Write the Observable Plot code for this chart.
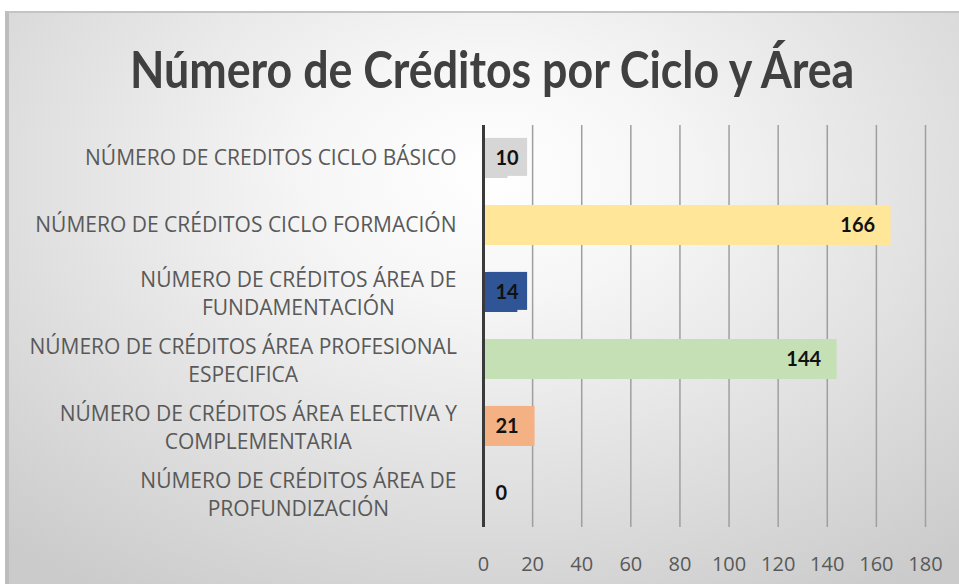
<!DOCTYPE html>
<html><head><meta charset="utf-8">
<script src="https://cdn.jsdelivr.net/npm/d3@7"></script>
<script src="https://cdn.jsdelivr.net/npm/@observablehq/plot@0.6"></script>
<style>
html,body{margin:0;padding:0;background:#fff;}
#wrap{position:relative;width:959px;height:584px;overflow:hidden;}
#card{position:absolute;left:5px;top:11px;width:960px;height:580px;border-top:2px solid #c4c4c4;border-left:4px solid #bdbdbd;
  background:radial-gradient(ellipse 75% 85% at 50% 28%, #ffffff 0%, #f6f6f6 25%, #e2e2e2 60%, #cbcbcb 100%);}
#title{position:absolute;left:0;top:40px;width:984px;text-align:center;line-height:56px;white-space:nowrap;}
#title span{display:inline-block;font-family:Lato,"Open Sans",sans-serif;font-weight:700;font-size:52px;color:#404040;transform:scaleX(0.86);transform-origin:50% 50%;}
#chart{position:absolute;left:0;top:112px;}
</style></head>
<body>
<div id="wrap"><div id="card"></div><div id="title"><span>Número de Créditos por Ciclo y Área</span></div><div id="chart"></div></div>
<script>
const categories = [
  "NÚMERO DE CREDITOS CICLO BÁSICO",
  "NÚMERO DE CRÉDITOS CICLO FORMACIÓN",
  "NÚMERO DE CRÉDITOS ÁREA DE\nFUNDAMENTACIÓN",
  "NÚMERO DE CRÉDITOS ÁREA PROFESIONAL\nESPECIFICA",
  "NÚMERO DE CRÉDITOS ÁREA ELECTIVA Y\nCOMPLEMENTARIA",
  "NÚMERO DE CRÉDITOS ÁREA DE\nPROFUNDIZACIÓN"
];
const values = [10, 166, 14, 144, 21, 0];
const barColors = ["#d6d6d6", "#ffe699", "#2f5597", "#c5e0b4", "#f4b183", "none"];
const xTicks = [0, 20, 40, 60, 80, 100, 120, 140, 160, 180];

const data = categories.map((c, i) => ({category: c, value: values[i], color: barColors[i]}));
const big = data.filter(d => d.value >= 30);
const small = data.filter(d => d.value < 30);

const labelFont = "Lato, 'Open Sans', sans-serif";
const plot = Plot.plot({
  width: 959,
  height: 472,
  marginLeft: 483,
  marginRight: 34,
  marginTop: 13,
  marginBottom: 57,
  style: {background: "transparent", overflow: "visible"},
  x: {domain: [0, 180], ticks: xTicks, tickSize: 0, tickPadding: 29, label: null},
  y: {domain: categories, paddingInner: 0.4, paddingOuter: 0.2, tickSize: 0, tickPadding: 27, label: null},
  marks: [
    Plot.ruleX(xTicks.slice(1), {stroke: "#9f9f9f", strokeWidth: 1.5}),
    Plot.barX(data, {y: "category", x: "value", fill: "color"}),
    Plot.ruleX([0], {stroke: "#3a3a3a", strokeWidth: 3}),
    Plot.text(big, {y: "category", x: "value", text: d => String(d.value), textAnchor: "end", dx: -16, fontWeight: "bold", fontSize: 20, fill: "#111", fontFamily: labelFont}),
    Plot.text(small, {y: "category", x: 0, text: d => String(d.value), textAnchor: "start", dx: 12, fontWeight: "bold", fontSize: 20, fill: "#111", fontFamily: labelFont})
  ]
});
document.getElementById("chart").appendChild(plot);

// axis text styling
const styleAxis = (sel, fs) => plot.querySelectorAll(sel).forEach(g => {
  g.setAttribute("font-size", fs);
  g.setAttribute("font-family", "'Open Sans', sans-serif");
  g.setAttribute("fill", "#595959");
  g.style.fontSize = fs + "px";
  g.style.fontFamily = "'Open Sans', sans-serif";
  g.style.fill = "#595959";
});
styleAxis('g[aria-label="x-axis tick label"]', 20);
const yFs = 21, lh = 28;
styleAxis('g[aria-label="y-axis tick label"]', yFs);

// multi-line category labels: centred lines, block right-aligned to the axis
plot.querySelectorAll('g[aria-label="y-axis tick label"] text').forEach(t => {
  const tspans = t.querySelectorAll("tspan");
  if (tspans.length < 2) return;
  t.removeAttribute("dy");
  tspans.forEach((s, i) => s.setAttribute("dy", i === 0 ? (0.32 * yFs - lh * (tspans.length - 1) / 2 + 6) + "px" : lh + "px"));
  const bb = t.getBBox();
  const cx = bb.x + bb.width / 2;
  t.setAttribute("text-anchor", "middle");
  tspans.forEach(s => s.setAttribute("x", cx));
});

// label boxes behind small value labels, coloured like their bars
const textGroups = plot.querySelectorAll('g[aria-label="text"]');
const smallGroup = textGroups[textGroups.length - 1];
if (smallGroup) {
  smallGroup.querySelectorAll("text").forEach((t, i) => {
    const d = small[i];
    if (!d || d.value === 0) return;
    const bb = t.getBBox();
    const r = document.createElementNS("http://www.w3.org/2000/svg", "rect");
    r.setAttribute("x", bb.x - 8);
    r.setAttribute("y", bb.y - 7);
    r.setAttribute("width", bb.width + 16);
    r.setAttribute("height", bb.height + 14);
    r.setAttribute("fill", d.color);
    if (t.getAttribute("transform")) r.setAttribute("transform", t.getAttribute("transform"));
    t.parentNode.insertBefore(r, t);
  });
}
</script>
</body></html>
